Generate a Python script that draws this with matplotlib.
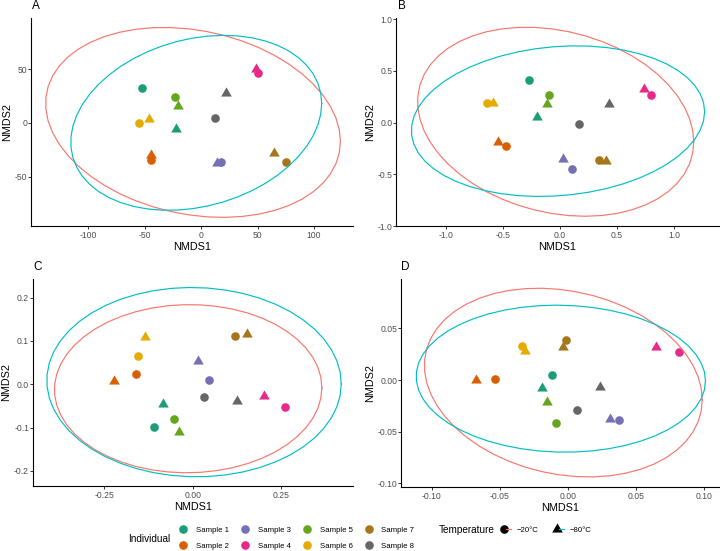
import numpy as np
import matplotlib
matplotlib.use("Agg")
import matplotlib.pyplot as plt
from matplotlib.lines import Line2D
from matplotlib.legend_handler import HandlerTuple
from matplotlib.ticker import FormatStrFormatter

plt.rcParams['font.family'] = ['Liberation Sans', 'DejaVu Sans']
plt.rcParams['axes.unicode_minus'] = False

samples = ["Sample 1", "Sample 2", "Sample 3", "Sample 4",
           "Sample 5", "Sample 6", "Sample 7", "Sample 8"]
sample_colors = ["#1B9E77", "#D95F02", "#7570B3", "#E7298A",
                 "#66A61E", "#E6AB02", "#A6761D", "#666666"]
temps = ["\u221220\u00b0C", "\u221280\u00b0C"]
temp_colors = ["#F8766D", "#00BFC4"]

# NMDS scores, one value per sample (order as `samples`)
A_m20_x = [-51.9, -44.2, 17.7, 50.7, -23.0, -54.6, 74.9, 12.4]
A_m20_y = [32.6, -34.5, -36.0, 46.3, 24.2, -0.3, -36.0, 4.7]
A_m80_x = [-21.8, -44.5, 14.5, 48.7, -20.6, -46.3, 64.9, 21.8]
A_m80_y = [-5.3, -29.8, -37.0, 50.0, 15.5, 3.4, -27.6, 27.6]

B_m20_x = [-0.273, -0.477, 0.107, 0.796, -0.100, -0.644, 0.340, 0.165]
B_m20_y = [0.411, -0.224, -0.452, 0.262, 0.269, 0.192, -0.359, -0.018]
B_m80_x = [-0.197, -0.545, 0.025, 0.734, -0.115, -0.591, 0.401, 0.428]
B_m80_y = [0.053, -0.188, -0.353, 0.324, 0.182, 0.192, -0.369, 0.182]

C_m20_x = [-0.110, -0.160, 0.047, 0.260, -0.054, -0.154, 0.119, 0.031]
C_m20_y = [-0.099, 0.023, 0.009, -0.0515, -0.081, 0.065, 0.112, -0.030]
C_m80_x = [-0.084, -0.224, 0.015, 0.202, -0.038, -0.136, 0.154, 0.126]
C_m80_y = [-0.046, 0.008, 0.053, -0.026, -0.111, 0.110, 0.115, -0.038]

D_m20_x = [-0.0113, -0.0532, 0.0375, 0.0819, -0.0088, -0.0336, -0.0012, 0.0069]
D_m20_y = [0.0048, 0.0010, -0.0387, 0.0271, -0.0413, 0.0326, 0.0384, -0.0290]
D_m80_x = [-0.0189, -0.0676, 0.0314, 0.0652, -0.0154, -0.0311, -0.0037, 0.0240]
D_m80_y = [-0.0074, 0.0000, -0.0380, 0.0323, -0.0210, 0.0280, 0.0320, -0.0065]

# R-style filled triangle (pch 17): equilateral, centred on its centroid
TRI = [(0, 1), (-0.866, -0.5), (0.866, -0.5)]
CIRC_MS = 6.2
TRI_MS = 8.8


def cov_trob(x, nu=5, maxit=25, tol=0.01):
    # port of MASS::cov.trob (what stat_ellipse type="t" uses)
    n, p = x.shape
    wt = np.ones(n)
    loc = x.mean(axis=0)
    w = np.sqrt(wt)
    for _ in range(maxit):
        w0 = w
        X = x - loc
        _, d, vt = np.linalg.svd(np.sqrt(w / w.sum())[:, None] * X, full_matrices=False)
        wX = X @ vt.T @ np.diag(1 / d)
        Q = (wX ** 2).sum(axis=1)
        w = wt * (nu + p) / (nu + Q)
        loc = (w[:, None] * x).sum(axis=0) / w.sum()
        if np.all(np.abs(w - w0) < tol):
            break
    sX = np.sqrt(w)[:, None] * X
    return sX.T @ sX / wt.sum(), loc


def ellipse_path(xs, ys, level=0.95, segments=51):
    pts = np.column_stack([xs, ys])
    shape, center = cov_trob(pts)
    dfn, dfd = 2, len(pts) - 1
    fq = dfd / 2 * ((1 - level) ** (-2 / dfd) - 1)  # qf(level, 2, dfd)
    radius = np.sqrt(dfn * fq)
    ang = np.linspace(0, 2 * np.pi, segments + 1)
    circ = np.column_stack([np.cos(ang), np.sin(ang)])
    chol = np.linalg.cholesky(shape).T
    e = center + radius * (circ @ chol)
    return e[:, 0], e[:, 1]


panels = [
    ("A", [0.0431, 0.5898, 0.4472, 0.3775], (A_m20_x, A_m20_y, A_m80_x, A_m80_y),
     (-150.4, 134.5), (-96, 97.8), [-100, -50, 0, 50, 100], [-50, 0, 50], "%d", "%d", 32),
    ("B", [0.5500, 0.5898, 0.4486, 0.3775], (B_m20_x, B_m20_y, B_m80_x, B_m80_y),
     (-1.438, 1.395), (-1.0, 1.01), [-1.0, -0.5, 0.0, 0.5, 1.0], [-1.0, -0.5, 0.0, 0.5, 1.0],
     "%.1f", "%.1f", 398),
    ("C", [0.0454, 0.1180, 0.4453, 0.3756], (C_m20_x, C_m20_y, C_m80_x, C_m80_y),
     (-0.4528, 0.4545), (-0.2347, 0.243), [-0.25, 0.0, 0.25], [-0.2, -0.1, 0.0, 0.1, 0.2],
     "%.2f", "%.1f", 33),
    ("D", [0.5574, 0.1167, 0.4416, 0.3764], (D_m20_x, D_m20_y, D_m80_x, D_m80_y),
     (-0.1224, 0.1115), (-0.1033, 0.0975), [-0.10, -0.05, 0.0, 0.05, 0.10],
     [-0.10, -0.05, 0.0, 0.05], "%.2f", "%.2f", 401),
]

fig = plt.figure(figsize=(7.2, 5.51), dpi=100)

for label, rect, (x20, y20, x80, y80), xl, yl, xt, yt, xf, yf, lab_x in panels:
    ax = fig.add_axes(rect)
    # triangles (-80) first, circles (-20) on top
    for xs, ys, mk, ms in [(x80, y80, TRI, TRI_MS), (x20, y20, "o", CIRC_MS)]:
        for i in range(len(samples)):
            ax.plot(xs[i], ys[i], marker=mk, color=sample_colors[i], ms=ms,
                    markeredgewidth=0, linestyle="none")
    for (xs, ys), col in zip([(x20, y20), (x80, y80)], temp_colors):
        ex, ey = ellipse_path(np.array(xs), np.array(ys))
        ax.plot(ex, ey, color=col, lw=0.85)
    ax.set_xlim(*xl)
    ax.set_ylim(*yl)
    ax.set_xticks(xt)
    ax.set_yticks(yt)
    ax.xaxis.set_major_formatter(FormatStrFormatter(xf))
    ax.yaxis.set_major_formatter(FormatStrFormatter(yf))
    for s in ["top", "right"]:
        ax.spines[s].set_visible(False)
    for s in ["left", "bottom"]:
        ax.spines[s].set_linewidth(0.8)
    ax.tick_params(length=2.0, width=0.7, color="#333333", labelsize=6.2,
                   labelcolor="#4D4D4D")
    ax.tick_params(axis="x", pad=1.8)
    ax.tick_params(axis="y", pad=0.6)
    ax.set_xlabel("NMDS1", fontsize=7.8, labelpad=1.2)
    ax.set_ylabel("NMDS2", fontsize=7.8, labelpad=2.0)
    top_px = (1 - rect[1] - rect[3]) * 551
    fig.text(lab_x / 720, 1 - (top_px - 12) / 551, label, fontsize=8.5,
             ha="left", va="center")

# legends
ind_handles = [Line2D([], [], marker="o", color=c, ms=CIRC_MS, markeredgewidth=0,
                      linestyle="none") for c in sample_colors]
fig.legend(ind_handles, samples, ncol=4, fontsize=5.6, frameon=False,
           loc="center left", bbox_to_anchor=(0.248, 0.0232), borderpad=0,
           borderaxespad=0, handlelength=1.2, handletextpad=1.03,
           columnspacing=1.48, labelspacing=1.05)
fig.text(128 / 720, 0.0218, "Individual", fontsize=7.2, ha="left", va="center")

temp_handles = []
for mk, ms, col in zip(["o", TRI], [CIRC_MS, TRI_MS], temp_colors):
    m = Line2D([], [], marker=mk, color="black", ms=ms,
               markeredgewidth=0, linestyle="none")
    ln = Line2D([], [], color=col, lw=0.85)
    temp_handles.append((m, ln))
fig.legend(temp_handles, temps, ncol=2, fontsize=5.6, frameon=False,
           loc="center left", bbox_to_anchor=(0.6963, 0.0381), borderpad=0,
           borderaxespad=0, handlelength=1.29, handletextpad=0.64,
           columnspacing=2.1, handler_map={tuple: HandlerTuple(ndivide=None)})
fig.text(439 / 720, 0.0381, "Temperature", fontsize=7.2, ha="left", va="center")

fig.savefig("out.png", dpi=100)
